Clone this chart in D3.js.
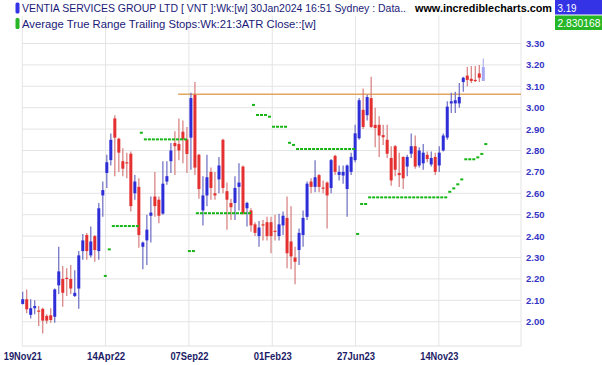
<!DOCTYPE html>
<html><head><meta charset="utf-8">
<script src="https://cdn.jsdelivr.net/npm/d3@7"></script>
<style>
body{margin:0;background:#fff;}
svg{display:block;font-family:"Liberation Sans",Arial,sans-serif;}
</style>
</head><body>
<svg id="chart" width="602" height="365"></svg>
<script>
// ---- data (weekly bars, index 0 = 19Nov21) ----
const opens = [2.083,2.105,2.032,2.063,2.052,2.06,2.027,2.03,2.023,2.17,
2.20,2.205,2.20,2.12,2.155,2.33,2.405,2.31,2.40,2.33,
2.59,2.695,2.755,2.95,2.855,2.75,2.745,2.785,2.60,2.63,
2.35,2.38,2.495,2.585,2.57,2.505,2.655,2.75,2.835,2.83,
2.888,2.852,2.86,3.06,2.78,2.52,2.59,2.70,2.60,2.665,
2.85,2.61,2.555,2.555,2.63,2.725,2.53,2.52,2.455,2.40,
2.455,2.465,2.465,2.425,2.40,2.45,2.485,2.375,2.30,2.335,
2.405,2.49,2.655,2.63,2.685,2.627,2.65,2.625,2.775,2.686,
2.683,2.62,2.70,2.755,2.857,2.99,2.965,3.045,2.92,2.92,
2.872,2.85,2.765,2.82,2.695,2.77,2.725,2.785,2.82,2.73,
2.74,2.78,2.735,2.77,2.73,2.80,2.86,3.02,3.02,3.02,
3.12,3.15,3.135,3.13,3.16,3.125];
const highs = [2.14,2.15,2.105,2.10,2.073,2.065,2.035,2.063,2.155,2.35,
2.26,2.25,2.265,2.24,2.33,2.41,2.415,2.445,2.405,2.555,
2.655,2.78,2.88,2.965,2.86,2.81,2.79,2.795,2.685,2.67,
2.375,2.50,2.585,2.70,2.585,2.75,2.75,2.835,2.89,2.95,
2.94,2.91,3.07,3.12,2.785,2.68,2.78,2.72,2.70,2.77,
2.855,2.65,2.575,2.68,2.74,2.73,2.56,2.53,2.465,2.47,
2.475,2.49,2.49,2.50,2.505,2.515,2.585,2.54,2.35,2.435,
2.52,2.655,2.67,2.755,2.69,2.66,2.655,2.76,2.78,2.73,
2.73,2.735,2.79,2.92,3.045,3.09,3.06,3.145,3.00,2.96,
2.92,2.92,2.82,2.826,2.79,2.772,2.78,2.88,2.87,2.815,
2.83,2.795,2.795,2.79,2.82,2.88,3.03,3.07,3.075,3.115,
3.145,3.19,3.195,3.195,3.20,3.23];
const lows = [2.08,2.04,2.015,2.035,1.98,1.945,1.99,1.995,1.995,2.13,
2.07,2.12,2.13,2.115,2.06,2.29,2.29,2.30,2.28,2.29,
2.49,2.625,2.73,2.68,2.70,2.68,2.67,2.515,2.57,2.345,
2.245,2.265,2.37,2.49,2.46,2.50,2.64,2.695,2.685,2.755,
2.74,2.695,2.71,2.685,2.575,2.45,2.54,2.57,2.57,2.60,
2.60,2.43,2.475,2.475,2.52,2.50,2.445,2.42,2.40,2.35,
2.38,2.38,2.32,2.38,2.38,2.405,2.25,2.245,2.175,2.265,
2.35,2.475,2.60,2.605,2.605,2.60,2.435,2.60,2.685,2.66,
2.645,2.49,2.685,2.745,2.85,2.90,2.94,2.905,2.815,2.77,
2.826,2.765,2.635,2.68,2.63,2.62,2.68,2.765,2.715,2.72,
2.71,2.745,2.725,2.685,2.70,2.795,2.85,2.975,2.975,3.00,
3.075,3.10,3.115,3.12,3.12,3.125];
const closes = [2.105,2.058,2.063,2.073,2.047,2.005,2.005,2.008,2.151,2.235,
2.135,2.20,2.155,2.135,2.31,2.38,2.33,2.375,2.335,2.53,
2.615,2.745,2.85,2.86,2.79,2.715,2.74,2.54,2.655,2.405,
2.37,2.43,2.51,2.54,2.495,2.645,2.68,2.80,2.82,2.80,
2.852,2.784,3.045,2.72,2.62,2.59,2.675,2.625,2.59,2.73,
2.625,2.57,2.535,2.625,2.65,2.505,2.555,2.45,2.415,2.44,
2.45,2.40,2.40,2.42,2.455,2.495,2.32,2.305,2.28,2.415,
2.485,2.645,2.63,2.675,2.63,2.622,2.59,2.755,2.70,2.70,
2.70,2.73,2.77,2.88,3.035,2.91,3.05,2.91,2.905,2.87,
2.862,2.785,2.66,2.71,2.685,2.67,2.77,2.82,2.725,2.80,
2.79,2.76,2.765,2.70,2.79,2.87,3.005,3.03,3.035,3.05,
3.14,3.13,3.125,3.125,3.14,3.19];
// ATR trailing stop (21, 3ATR, close); null = not yet defined
const stops = [null,null,null,null,null,null,null,null,null,null,
null,null,null,null,null,null,null,null,null,null,
2.214,2.338,2.447,2.447,2.447,2.447,2.447,2.447,2.447,2.883,
2.852,2.852,2.852,2.852,2.852,2.852,2.852,2.852,2.852,2.852,
2.852,2.33,2.33,2.507,2.507,2.507,2.507,2.507,2.507,2.507,
2.507,2.507,2.507,2.507,2.507,2.507,2.507,3.013,2.966,2.966,
2.966,2.958,2.911,2.911,2.911,2.911,2.836,2.826,2.807,2.807,
2.807,2.807,2.807,2.807,2.807,2.807,2.807,2.807,2.807,2.807,
2.807,2.807,2.807,2.41,2.55,2.55,2.581,2.581,2.581,2.581,
2.581,2.581,2.581,2.581,2.581,2.581,2.581,2.581,2.581,2.581,
2.581,2.581,2.581,2.581,2.581,2.581,2.607,2.623,2.642,2.665,
2.759,2.759,2.759,2.768,2.784,2.830];
const xTickLabels = ["19Nov21","14Apr22","07Sep22","01Feb23","27Jun23","14Nov23"];
const xTickIdx = [-0.1,20.7,41.5,62.3,83.1,103.9];
const yTicks = [2.0,2.1,2.2,2.3,2.4,2.5,2.6,2.7,2.8,2.9,3.0,3.1,3.2,3.3];
const resistance = [{start:38.8, value:3.063}];
const legendRows = [
  {text:"VENTIA SERVICES GROUP LTD [ VNT ]:Wk:[w]  30Jan2024 16:51 Sydney : Data..", value:"3.19", color:"#3434e6"},
  {text:"Average True Range Trailing Stops:Wk:21:3ATR Close::[w]", value:"2.830168", color:"#26b626"}
];
const siteLabel = "www.incrediblecharts.com";

// ---- layout ----
const W = 602, H = 365;
const plotL = 22, plotR = 521, plotT = 16, plotB = 346;
const svg = d3.select("#chart");
const x = d3.scaleLinear().domain([0, 115]).range([22.7, 483.3]);
const y = d3.scaleLinear().domain([2.0, 3.3]).range([321.7, 43.5]);

const grid = svg.append("g");
grid.selectAll("line.h").data(yTicks).join("line")
  .attr("x1", plotL).attr("x2", plotR)
  .attr("y1", d => y(d)).attr("y2", d => y(d))
  .attr("stroke", "#e4e4e4").attr("stroke-width", 1);
grid.selectAll("line.v").data(xTickIdx).join("line")
  .attr("x1", d => x(d)).attr("x2", d => x(d))
  .attr("y1", plotT).attr("y2", plotB)
  .attr("stroke", "#e4e4e4").attr("stroke-width", 1);
grid.append("line").attr("x1", plotR).attr("x2", plotR).attr("y1", plotT).attr("y2", plotB)
  .attr("stroke", "#e4e4e4");
grid.append("line").attr("x1", plotL).attr("x2", plotR).attr("y1", plotB).attr("y2", plotB)
  .attr("stroke", "#e0e0e0");

// resistance line
svg.selectAll("line.res").data(resistance).join("line")
  .attr("x1", d => x(d.start)).attr("x2", plotR)
  .attr("y1", d => y(d.value)).attr("y2", d => y(d.value))
  .attr("stroke", "#e2a662").attr("stroke-width", 1.4);

// candles
const bars = d3.range(opens.length).map(i => ({i, o:opens[i], h:highs[i], l:lows[i], c:closes[i]}));
const last = bars.length - 1;
const bodyCol = d => d.i === last ? "#a6a6f2" : (d.c >= d.o ? "#2e2ed8" : "#e43030");
const wickCol = d => d.i === last ? "#b4b4ee" : (d.c >= d.o ? "#6b6bc2" : "#d67c7c");
const cg = svg.append("g");
cg.selectAll("line.wick").data(bars).join("line")
  .attr("x1", d => x(d.i)).attr("x2", d => x(d.i))
  .attr("y1", d => y(d.h)).attr("y2", d => y(d.l))
  .attr("stroke", wickCol).attr("stroke-width", 1.2);
cg.selectAll("rect.body").data(bars).join("rect")
  .attr("x", d => x(d.i) - 1.5).attr("width", 3)
  .attr("y", d => y(Math.max(d.o, d.c)))
  .attr("height", d => Math.max(1.2, Math.abs(y(d.o) - y(d.c))))
  .attr("fill", bodyCol);

// trailing stop dashes
const stopPts = stops.map((v, i) => ({i, v})).filter(d => d.v !== null);
svg.append("g").selectAll("rect").data(stopPts).join("rect")
  .attr("x", d => x(d.i) + 1).attr("width", 3)
  .attr("y", d => y(d.v) - 1).attr("height", 2)
  .attr("fill", "#16b416");

// axes
const yAxis = svg.append("g").attr("transform", `translate(${plotR},0)`)
  .call(d3.axisRight(y).tickValues(yTicks).tickFormat(d3.format(".2f")).tickSize(0).tickPadding(5));
yAxis.select(".domain").remove();
yAxis.selectAll("text").attr("fill", "#3333c4").attr("font-size", "9.5px").attr("font-weight", "bold")
  .attr("font-family", "'Liberation Sans',Arial,sans-serif");

const xAxis = svg.append("g").attr("transform", `translate(0,${plotB})`)
  .call(d3.axisBottom(x).tickValues(xTickIdx).tickFormat((d, i) => xTickLabels[i]).tickSize(0).tickPadding(7));
xAxis.select(".domain").remove();
xAxis.selectAll("text").attr("fill", "#1c1c66").attr("font-size", "10.5px").attr("font-weight", "bold")
  .attr("font-family", "'Liberation Sans',Arial,sans-serif")
  .attr("textLength", 38).attr("lengthAdjust", "spacingAndGlyphs");

// legend
const lg = svg.append("g");
const rowY = [0, 15.5];
const textLens = [384, 294];
const valueLens = [19, 43];
legendRows.forEach((r, k) => {
  lg.append("rect").attr("x", 15.5).attr("y", rowY[k] + 2.5).attr("width", 4).attr("height", 11)
    .attr("rx", 1.5).attr("fill", r.color);
  lg.append("text").attr("x", 22).attr("y", rowY[k] + 12.2).text(r.text)
    .attr("font-size", "11px").attr("fill", "#1a1a78")
    .attr("textLength", textLens[k]).attr("lengthAdjust", "spacingAndGlyphs");
  lg.append("rect").attr("x", 555).attr("y", rowY[k]).attr("width", 47).attr("height", 14.5)
    .attr("fill", r.color);
  lg.append("text").attr("x", 557.5).attr("y", rowY[k] + 11.8).text(r.value)
    .attr("font-size", "11px").attr("fill", "#ffffff")
    .attr("textLength", valueLens[k]).attr("lengthAdjust", "spacingAndGlyphs");
});
lg.append("text").attr("x", 415).attr("y", 12.2).text(siteLabel)
  .attr("font-size", "11px").attr("font-weight", "bold").attr("fill", "#000")
  .attr("textLength", 137).attr("lengthAdjust", "spacingAndGlyphs");
</script>
</body></html>
